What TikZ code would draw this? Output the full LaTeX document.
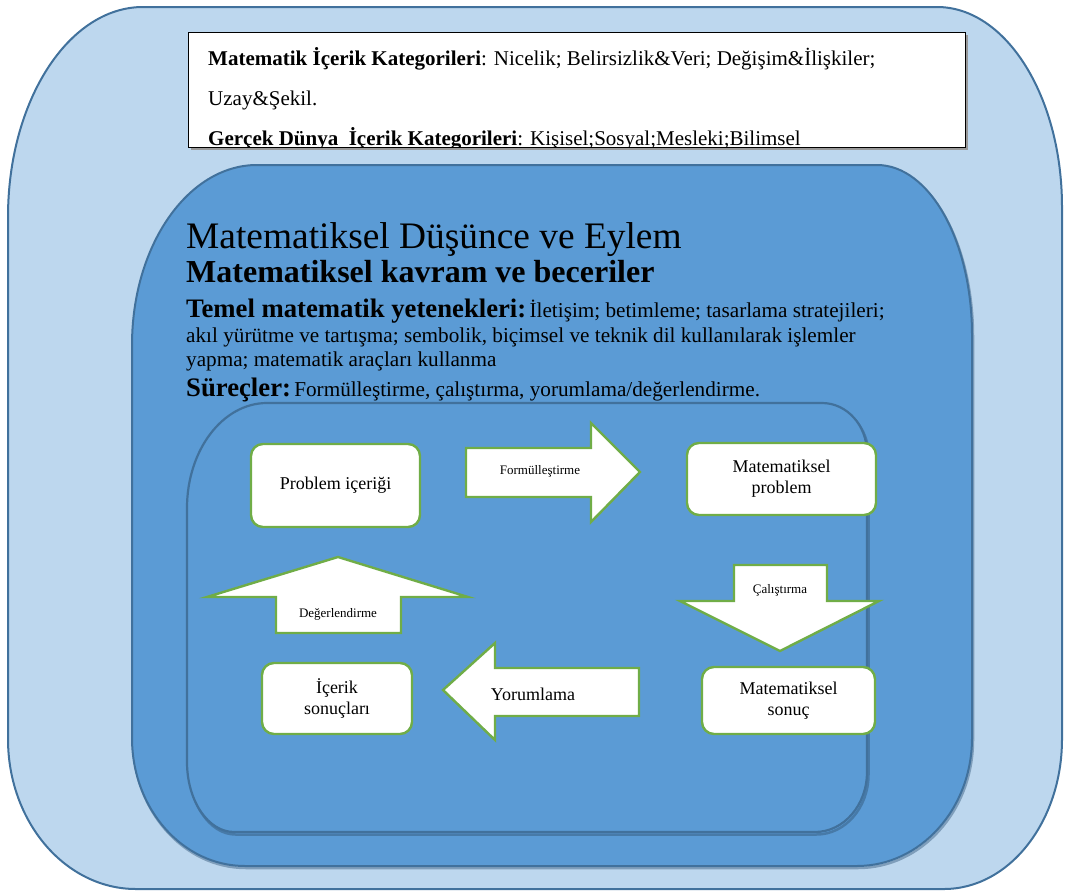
\documentclass[tikz,border=0pt]{standalone}
\usepackage{fontspec}
\setmainfont{LiberationSerif}[Extension=.ttf, UprightFont=*-Regular, BoldFont=*-Bold,
  ItalicFont=*-Italic, BoldItalicFont=*-BoldItalic]
\definecolor{outerfill}{HTML}{BDD7EE}
\definecolor{panelfill}{HTML}{5B9BD5}
\definecolor{panelline}{HTML}{41719C}
\definecolor{stepgreen}{HTML}{70AD47}

\begin{document}
\begin{tikzpicture}[x=1pt,y=-1pt,
  panel/.style={fill=panelfill, draw=panelline, line width=2pt},
  stepbox/.style={draw=stepgreen, fill=white, line width=2.4pt, rounded corners=12pt,
                  align=center, font=\fontsize{18}{21}\selectfont, inner sep=2pt},
  blockarrow/.style={draw=stepgreen, fill=white, line width=2.4pt, line join=miter},
  txt/.style={inner sep=0pt, anchor=base west},
  smalllbl/.style={inner sep=0pt, font=\fontsize{13}{15}\selectfont},
]
\useasboundingbox (0,0) rectangle (1065,894);

% outer frame: real-world context
\path[panel, fill=outerfill]
  (8,217) arc[start angle=180, end angle=270, x radius=135, y radius=210]
  -- (937,7) arc[start angle=270, end angle=360, x radius=125, y radius=200]
  -- (1062,739) arc[start angle=0, end angle=90, x radius=118, y radius=150]
  -- (136,889) arc[start angle=90, end angle=180, x radius=128, y radius=150]
  -- cycle;

% middle frame: mathematical thought and action
\path[draw=panelline!80!black, line width=2.5pt, opacity=0.45, shift={(1,2)}]
  (132,345) arc[start angle=180, end angle=270, x radius=125, y radius=180]
  -- (877,165) arc[start angle=270, end angle=360, x radius=95, y radius=170]
  -- (972,738) arc[start angle=0, end angle=90, x radius=115, y radius=128]
  -- (245,866) arc[start angle=90, end angle=180, x radius=113, y radius=128]
  -- cycle;
\path[panel]
  (132,345) arc[start angle=180, end angle=270, x radius=125, y radius=180]
  -- (877,165) arc[start angle=270, end angle=360, x radius=95, y radius=170]
  -- (972,738) arc[start angle=0, end angle=90, x radius=115, y radius=128]
  -- (245,866) arc[start angle=90, end angle=180, x radius=113, y radius=128]
  -- cycle;

% content categories box
\fill[black!40] (191,35) rectangle (968,150);
\node[draw=black, fill=white, line width=1pt, minimum width=777pt, minimum height=115pt,
      anchor=north west, inner sep=0pt] (catbox) at (188,32) {};
\begin{scope}
  \clip (189,33) rectangle (964,146);
  \node[txt] (cat1) at (208,65) {\fontsize{21}{25}\selectfont\textbf{Matematik İçerik Kategorileri}: Nicelik; Belirsizlik\&Veri; Değişim\&İlişkiler;};
  \node[txt] (cat2) at (208,105) {\fontsize{21}{25}\selectfont Uzay\&Şekil.};
  \node[txt] (cat3) at (208,145) {\fontsize{21}{25}\selectfont\textbf{Gerçek Dünya~~İçerik Kategorileri}: Kişisel;Sosyal;Mesleki;Bilimsel};
\end{scope}

% headings
\node[txt] (title) at (186,248) {\fontsize{37.4}{42}\selectfont Matematiksel Düşünce ve Eylem};
\node[txt] (subtitle) at (186,282) {\fontsize{32}{36}\selectfont\bfseries Matematiksel kavram ve beceriler};
\node[txt] (skills1) at (186,317) {{\fontsize{26.7}{30}\selectfont\bfseries Temel matematik yetenekleri:} {\fontsize{21.2}{24}\selectfont İletişim; betimleme; tasarlama stratejileri;}};
\node[txt] (skills2) at (186,342) {\fontsize{21.2}{24}\selectfont akıl yürütme ve tartışma; sembolik, biçimsel ve teknik dil kullanılarak işlemler};
\node[txt] (skills3) at (186,366) {\fontsize{21.2}{24}\selectfont yapma; matematik araçları kullanma};
\node[txt] (procs) at (186,396) {{\fontsize{26.7}{30}\selectfont\bfseries Süreçler:} {\fontsize{21.2}{24}\selectfont Formülleştirme, çalıştırma, yorumlama/değerlendirme.}};

% inner frame: modelling cycle
\def\innerframe{(187,508) arc[start angle=180, end angle=270, x radius=80, y radius=105]
  -- (822,403) arc[start angle=270, end angle=360, x radius=45, y radius=50]
  -- (867,772) arc[start angle=0, end angle=90, x radius=52, y radius=60]
  -- (234,832) arc[start angle=90, end angle=180, x radius=47, y radius=70]
  -- cycle}
\path[draw=panelline!80!black, line width=2.5pt, opacity=0.5, shift={(1.5,2.5)}] \innerframe;
\path[panel, line width=2.2pt] \innerframe;

% block arrows of the cycle
\path[blockarrow] (466,448) -- (591,448) -- (591,423) -- (640,472) -- (591,522) -- (591,497) -- (466,497) -- cycle;
\path[blockarrow] (734,565) -- (827,565) -- (827,601) -- (879,601) -- (780,651) -- (680,601) -- (734,601) -- cycle;
\path[blockarrow] (639,668) -- (639,716) -- (495,716) -- (495,740) -- (443,690) -- (495,643) -- (495,668) -- cycle;
\path[blockarrow] (276,633) -- (276,597) -- (207,597) -- (338,557) -- (468,597) -- (401,597) -- (401,633) -- cycle;

\node[smalllbl] (formlbl) at (540,471) {Formülleştirme};
\node[smalllbl] (callbl) at (780,590) {Çalıştırma};
\node[smalllbl] (deglbl) at (338,614) {Değerlendirme};
\node[inner sep=0pt, font=\fontsize{18}{21}\selectfont] (yorlbl) at (533,694) {Yorumlama};

% stages of the cycle
\node[stepbox, minimum width=169pt, minimum height=83pt] (probctx) at (335.5,485.5) {Problem içeriği};
\node[stepbox, minimum width=189pt, minimum height=72pt] (mathprob) at (781.5,479) {Matematiksel\\problem};
\node[stepbox, minimum width=150pt, minimum height=71pt] (ctxres) at (337,698.5) {İçerik\\sonuçları};
\node[stepbox, minimum width=173pt, minimum height=67pt] (mathres) at (788.5,700.5) {Matematiksel\\sonuç};
\end{tikzpicture}
\end{document}
